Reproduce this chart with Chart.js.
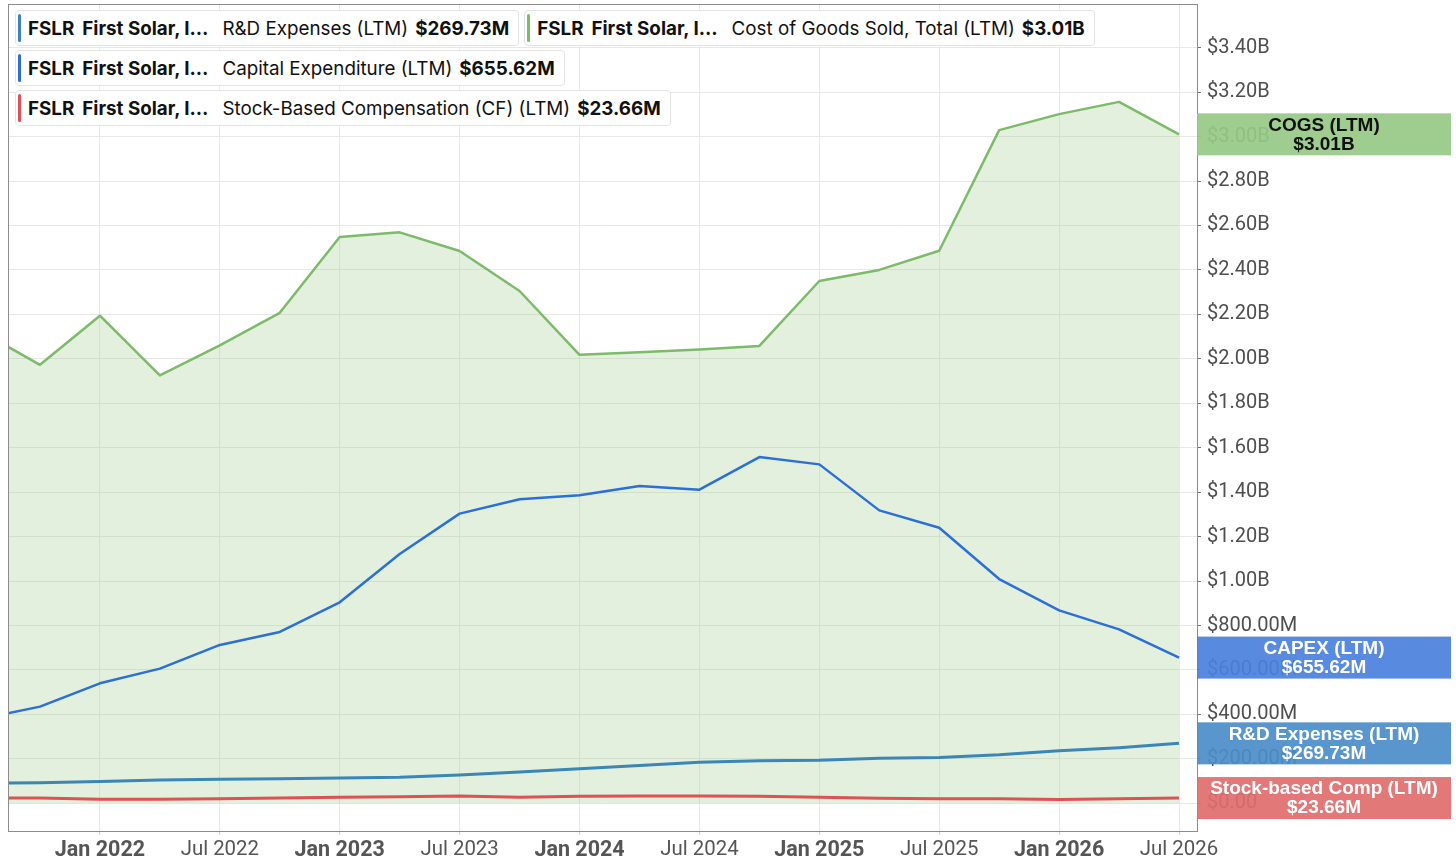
<!DOCTYPE html>
<html>
<head>
<meta charset="utf-8">
<script src="https://cdn.jsdelivr.net/npm/chart.js@4"></script>
<style>
  body { margin: 0; background: #fff; }
  #wrap { position: relative; width: 1456px; height: 866px; }
  .row { position: absolute; left: 15px; display: flex; gap: 5px; }
  .leg { position: relative; display: flex; align-items: center; height: 34px; padding: 0 9px 0 12px;
         background: #fff; border: 1px solid #e4e4e4; border-radius: 4px;
         font: 18.8px Inter, "Noto Sans", sans-serif; color: #111; white-space: nowrap; }
  .leg::before { content: ""; position: absolute; left: 2px; top: 3px; bottom: 3px; width: 3px;
                 border-radius: 2px; background: var(--c); }
  .leg b { font-weight: 700; }
  .leg .t { margin-left: 8px; margin-right: 14px; }
  .leg .v { margin-left: 7px; }
</style>
</head>
<body>
<div id="wrap">
  <canvas id="chart"></canvas>
  <div class="row" style="top:10px" id="row1"></div>
  <div class="row" style="top:50px" id="row2"></div>
  <div class="row" style="top:90px" id="row3"></div>
</div>
<script>
// kvartal (x-axeln)
const quarters = ['Jul 2021','Oct 2021','Jan 2022','Apr 2022','Jul 2022','Oct 2022','Jan 2023','Apr 2023',
  'Jul 2023','Oct 2023','Jan 2024','Apr 2024','Jul 2024','Oct 2024','Jan 2025','Apr 2025','Jul 2025',
  'Oct 2025','Jan 2026','Apr 2026','Jul 2026'];

// värden i miljarder USD
const cogs = [2.125, 1.973, 2.194, 1.925, 2.06, 2.207, 2.548, 2.569, 2.485, 2.305, 2.018, 2.03, 2.042,
  2.058, 2.35, 2.40, 2.486, 3.029, 3.101, 3.156, 3.01];
const capex = [0.379, 0.435, 0.54, 0.606, 0.7125, 0.771, 0.9045, 1.122, 1.3035, 1.368, 1.386, 1.4275,
  1.411, 1.558, 1.525, 1.318, 1.24, 1.009, 0.868, 0.7825, 0.65562];
const rnd = [0.090, 0.092, 0.098, 0.105, 0.108, 0.111, 0.114, 0.117, 0.127, 0.141, 0.155, 0.170, 0.185,
  0.192, 0.194, 0.203, 0.206, 0.218, 0.236, 0.250, 0.26973];
const sbc = [0.024, 0.024, 0.018, 0.018, 0.020, 0.024, 0.027, 0.029, 0.033, 0.027, 0.032, 0.033, 0.033,
  0.032, 0.027, 0.023, 0.021, 0.021, 0.017, 0.021, 0.02366];

// axeletiketter
const xTickLabels = ['Jan 2022','Jul 2022','Jan 2023','Jul 2023','Jan 2024','Jul 2024','Jan 2025',
  'Jul 2025','Jan 2026','Jul 2026'];
const yTicks = [0, 0.2, 0.4, 0.6, 0.8, 1.0, 1.2, 1.4, 1.6, 1.8, 2.0, 2.2, 2.4, 2.6, 2.8, 3.0, 3.2, 3.4];
const yTickLabels = ['$0.00','$200.00M','$400.00M','$600.00M','$800.00M','$1.00B','$1.20B','$1.40B',
  '$1.60B','$1.80B','$2.00B','$2.20B','$2.40B','$2.60B','$2.80B','$3.00B','$3.20B','$3.40B'];

const monthIdx = { Jan: 0, Apr: 3, Jul: 6, Oct: 9 };
function toMonth(q) { // månader från jan 2022
  const [m, y] = q.split(' ');
  return (Number(y) - 2022) * 12 + monthIdx[m];
}
function pts(arr) { return arr.map((v, i) => ({ x: toMonth(quarters[i]), y: v })); }
function money(v) { return v >= 1 ? '$' + v.toFixed(2) + 'B' : '$' + (v * 1000).toFixed(2) + 'M'; }
const last = a => a[a.length - 1];

const series = [
  { key: 'rnd', data: rnd, color: '#3b86b8', box: '#4a8dc9', txt: '#fff', tag: 'R&D Expenses (LTM)', name: 'R&D Expenses (LTM)' },
  { key: 'cogs', data: cogs, color: '#7dbb6b', box: '#96c985', txt: '#111', tag: 'COGS (LTM)', name: 'Cost of Goods Sold, Total (LTM)' },
  { key: 'capex', data: capex, color: '#2c6fd8', box: '#4a80dd', txt: '#fff', tag: 'CAPEX (LTM)', name: 'Capital Expenditure (LTM)' },
  { key: 'sbc', data: sbc, color: '#de5252', box: '#e06c6c', txt: '#fff', tag: 'Stock-based Comp (LTM)', name: 'Stock-Based Compensation (CF) (LTM)' }
];

// legendrutor uppe till vänster
const rows = [['rnd', 'cogs'], ['capex'], ['sbc']];
rows.forEach((keys, r) => {
  const el = document.getElementById('row' + (r + 1));
  keys.forEach(k => {
    const s = series.find(s => s.key === k);
    const d = document.createElement('div');
    d.className = 'leg';
    d.style.setProperty('--c', s.color);
    d.innerHTML = '<b>FSLR</b><b class="t">First Solar, I…</b><span></span><b class="v"></b>';
    d.querySelector('span').textContent = s.name;
    d.querySelector('.v').textContent = money(last(s.data));
    el.appendChild(d);
  });
});

// ram + värdeetiketter till höger
const extras = {
  id: 'extras',
  afterDatasetsDraw(chart) {
    const { ctx, chartArea: a } = chart;
    ctx.save();
    ctx.strokeStyle = '#8c8c8c';
    ctx.lineWidth = 1;
    ctx.strokeRect(a.left + 0.5, a.top + 0.5, a.right - a.left, a.bottom - a.top);
    ctx.restore();
  },
  afterDraw(chart) {
    const { ctx, chartArea: a } = chart;
    const y = chart.scales.y;
    ctx.save();
    series.forEach(s => {
      const v = last(s.data);
      const cy = y.getPixelForValue(v);
      ctx.globalAlpha = 0.92;
      ctx.fillStyle = s.box;
      ctx.fillRect(a.right, cy - 21, 254, 42);
      ctx.globalAlpha = 1;
      ctx.fillStyle = s.txt;
      ctx.font = 'bold 19px "Liberation Sans", Arial, sans-serif';
      ctx.textAlign = 'center';
      ctx.textBaseline = 'middle';
      ctx.fillText(s.tag, a.right + 127, cy - 9);
      ctx.fillText(money(v), a.right + 127, cy + 10);
    });
    ctx.restore();
  }
};

const ds = (s, extra) => Object.assign({
  label: s.name, data: pts(s.data), borderColor: s.color, borderWidth: 2.5,
  pointRadius: 0, tension: 0, fill: false, borderJoinStyle: 'round'
}, extra);

new Chart(document.getElementById('chart'), {
  type: 'line',
  data: {
    datasets: [
      ds(series[2], { order: 1 }),
      ds(series[0], { order: 2, borderWidth: 3 }),
      ds(series[3], { order: 3, borderWidth: 3 }),
      ds(series[1], { order: 4, fill: 'origin', backgroundColor: 'rgba(141,196,120,0.25)' })
    ]
  },
  options: {
    responsive: true,
    maintainAspectRatio: false,
    animation: false,
    layout: { padding: { left: 8, top: 4, right: 0, bottom: 0 } },
    plugins: { legend: { display: false }, tooltip: { enabled: false } },
    scales: {
      x: {
        type: 'linear', min: -4.6, max: 54.9,
        afterBuildTicks: sc => { sc.ticks = xTickLabels.map(l => ({ value: toMonth(l) })); },
        afterFit: sc => { sc.height = 35; sc.paddingLeft = 0; sc.paddingRight = 0; },
        grid: { color: '#e8e8e8', tickLength: 4, tickColor: '#d0d0d0' },
        border: { color: '#8c8c8c' },
        ticks: {
          maxRotation: 0, autoSkip: false, padding: 3, color: '#555',
          callback: (v, i) => xTickLabels[i],
          font: c => (c.tick && c.tick.value % 12 === 0)
            ? { family: 'Roboto', size: 21.5, weight: 'bold' }
            : { family: 'Roboto', size: 20.4, weight: 'normal' }
        }
      },
      y: {
        position: 'right', min: -0.1246, max: 3.5964,
        afterBuildTicks: sc => { sc.ticks = yTicks.map(v => ({ value: v })); },
        afterFit: sc => { sc.width = 259; sc.paddingTop = 0; sc.paddingBottom = 0; },
        grid: { color: '#e8e8e8', tickLength: 4, tickColor: '#777' },
        border: { color: '#8c8c8c' },
        ticks: {
          padding: 6, color: '#4f4f4f', font: { family: 'Roboto', size: 20 },
          callback: (v, i) => yTickLabels[i]
        }
      }
    }
  },
  plugins: [extras]
});
</script>
</body>
</html>
